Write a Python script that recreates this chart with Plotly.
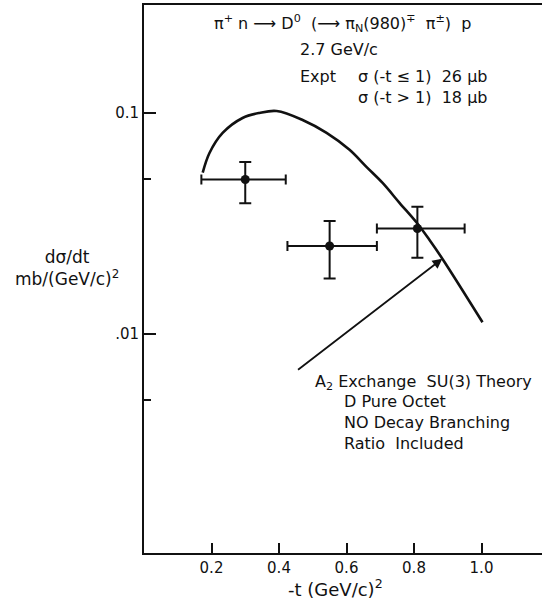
import numpy as np
import plotly.graph_objects as go

# Measured d(sigma)/dt points, pi+ n -> D0 p at 2.7 GeV/c
T_CENTER = [0.30, 0.55, 0.81]
T_ERR_MINUS = [0.13, 0.125, 0.12]
T_ERR_PLUS = [0.12, 0.14, 0.14]
DSDT = [0.050, 0.025, 0.030]
DSDT_ERR_PLUS = [0.010, 0.0074, 0.0076]
DSDT_ERR_MINUS = [0.011, 0.0072, 0.0079]

# A2-exchange SU(3) prediction
THEORY_T = [0.174, 0.194, 0.233, 0.292, 0.342, 0.393, 0.470, 0.541,
            0.609, 0.659, 0.707, 0.757, 0.810, 0.846, 0.884, 1.003]
THEORY_DSDT = [0.0537, 0.0659, 0.0812, 0.0949, 0.100, 0.102, 0.0929,
               0.0812, 0.0681, 0.0570, 0.0482, 0.0392, 0.0316, 0.0266,
               0.0219, 0.0113]

X_TICKS = [0.2, 0.4, 0.6, 0.8, 1.0]
X_TICK_TEXT = ["0.2", "0.4", "0.6", "0.8", "1.0"]
Y_TICKS = [0.1, 0.01]
Y_TICK_TEXT = ["0.1", ".01"]
Y_MINOR = [0.05, 0.005]

W, H = 542, 601
L, R, T, B = 144, 0, 5, 48
FONT = "DejaVu Sans"
INK = "#111111"


def px(xp):
    return (xp - L) / (W - L - R)


def py(yp):
    return (H - B - yp) / (H - T - B)


fig = go.Figure()

fig.add_trace(go.Scatter(
    x=THEORY_T, y=THEORY_DSDT, mode="lines",
    line=dict(color=INK, width=2.6, shape="spline", smoothing=1.0),
    hoverinfo="skip", showlegend=False,
))

fig.add_trace(go.Scatter(
    x=T_CENTER, y=DSDT, mode="markers",
    marker=dict(color=INK, size=9),
    error_x=dict(type="data", symmetric=False, array=T_ERR_PLUS,
                 arrayminus=T_ERR_MINUS, color=INK, thickness=2, width=5),
    error_y=dict(type="data", symmetric=False, array=DSDT_ERR_PLUS,
                 arrayminus=DSDT_ERR_MINUS, color=INK, thickness=2, width=6),
    showlegend=False,
))

text_font = dict(family=FONT, size=16, color=INK)


def label(text, xp, yp, anchor="left", size=16):
    fig.add_annotation(text=text, xref="paper", yref="paper",
                       x=px(xp), y=py(yp), xanchor=anchor, yanchor="middle",
                       align=anchor, showarrow=False,
                       font=dict(family=FONT, size=size, color=INK))


label("π<sup>+</sup> n ⟶ D<sup>0</sup>  (⟶ π<sub>N</sub>(980)<sup>∓</sup>  π<sup>±</sup>)  p", 212, 24)
label("2.7 GeV/c", 298, 50)
label("Expt", 298, 77)
label("σ (-t ≤ 1)  26 μb", 356, 77)
label("σ (-t > 1)  18 μb", 356, 97)

label("A<sub>2</sub> Exchange  SU(3) Theory", 313, 382)
label("D Pure Octet<br>NO Decay Branching<br>Ratio  Included", 342, 422)

label("dσ/dt<br>mb/(GeV/c)<sup>2</sup>", 67, 268, anchor="center", size=17)
label("-t (GeV/c)<sup>2</sup>", 335, 588, anchor="center", size=18)

# arrow from the theory label to the curve
tip_t = 0.884
tip_log = float(np.interp(tip_t, THEORY_T, np.log10(THEORY_DSDT)))
fig.add_annotation(
    x=tip_t, y=tip_log, xref="x", yref="y",
    ax=0.452, ay=-2.167, axref="x", ayref="y",
    showarrow=True, arrowhead=2, arrowsize=1.1, arrowwidth=1.8,
    arrowcolor=INK, text="",
)

fig.update_layout(
    width=W, height=H,
    margin=dict(l=L, r=R, t=T, b=B),
    paper_bgcolor="white", plot_bgcolor="white",
    font=text_font,
    xaxis=dict(
        range=[0, (W - L - R) / 337.5], showgrid=False, zeroline=False,
        showline=True, linecolor=INK, linewidth=2, mirror=True,
        ticks="inside", ticklen=10, tickwidth=1.6, tickcolor=INK,
        tickvals=X_TICKS, ticktext=X_TICK_TEXT,
        tickfont=dict(family=FONT, size=15, color=INK),
    ),
    yaxis=dict(
        type="log", range=[np.log10(0.00102), np.log10(0.308)],
        showgrid=False, zeroline=False,
        showline=True, linecolor=INK, linewidth=2,
        ticks="inside", ticklen=12, tickwidth=1.6, tickcolor=INK,
        tickvals=Y_TICKS, ticktext=Y_TICK_TEXT,
        tickfont=dict(family=FONT, size=15, color=INK),
        minor=dict(tickvals=Y_MINOR, ticks="inside", ticklen=7,
                   tickwidth=1.6, tickcolor=INK),
    ),
)

fig.write_html("out.html")
